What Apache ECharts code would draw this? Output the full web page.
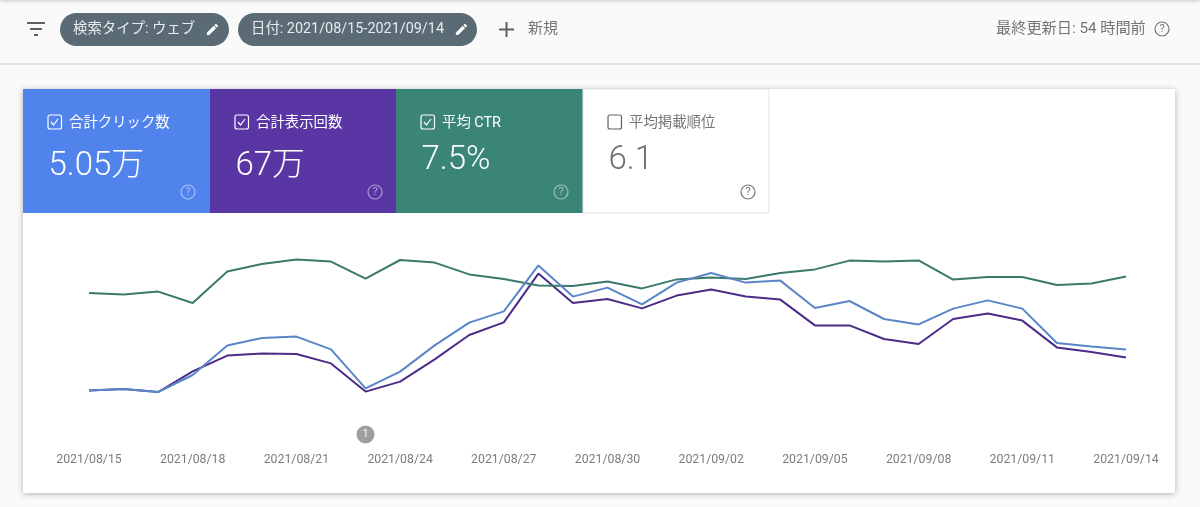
<!DOCTYPE html>
<html>
<head>
<meta charset="utf-8">
<style>
  html, body { margin: 0; padding: 0; background: #fafafa; }
  #chart { width: 1200px; height: 507px; }
</style>
<script src="https://cdn.jsdelivr.net/npm/echarts@6/dist/echarts.min.js"></script>
</head>
<body>
<div id="chart"></div>
<script>
var dates = [
  '2021/08/15', '2021/08/16', '2021/08/17', '2021/08/18', '2021/08/19', '2021/08/20', '2021/08/21', '2021/08/22',
  '2021/08/23', '2021/08/24', '2021/08/25', '2021/08/26', '2021/08/27', '2021/08/28', '2021/08/29', '2021/08/30',
  '2021/08/31', '2021/09/01', '2021/09/02', '2021/09/03', '2021/09/04', '2021/09/05', '2021/09/06', '2021/09/07',
  '2021/09/08', '2021/09/09', '2021/09/10', '2021/09/11', '2021/09/12', '2021/09/13', '2021/09/14'
]
// no scale in the picture, values are relative height 0-100
var clicks = [
  24.7, 25.5, 24, 32.5, 47.3, 51, 51.7, 45.3, 25.8, 34.2, 47.3, 58.7, 64.3, 87.3, 71.7, 76.2,
  67.8, 78.7, 83.5, 78.7, 79.7, 66, 69.5, 60.5, 57.8, 65.7, 69.8, 65.7, 48.5, 46.7, 45.3
]
var impressions = [
  24.7, 25.5, 24, 34.3, 42.2, 43.3, 43, 38.3, 24.2, 29.2, 40.3, 52.5, 58.8, 83.2, 68.5, 70.5,
  65.8, 72.2, 75.2, 71.8, 70.2, 57.3, 57.3, 50.5, 48, 60.5, 63.3, 59.7, 46.3, 44, 41.3
]
var ctr = [
  73.5, 72.8, 74.2, 68.5, 84.2, 88, 90.2, 89.2, 80.7, 90, 88.7, 82.8, 80.5, 77.2, 77, 79.3,
  75.8, 80.3, 81.3, 80.5, 83.5, 85.3, 89.7, 89.3, 89.8, 80.2, 81.5, 81.5, 77.5, 78.3, 81.8
]
var annotationDate = ['2021/08/23']
var annotationLevel = [2.8]
var annotationLabel = ['1']

var tileNames = ['合計クリック数', '合計表示回数', '平均 CTR', '平均掲載順位']
var tileValues = ['5.05万', '67万', '7.5%', '6.1']
var tileChecked = [true, true, true, false]

var chipLabels = ['検索タイプ: ウェブ', '日付: 2021/08/15-2021/09/14']
var newLabel = '新規'
var updatedLabel = '最終更新日: 54 時間前'

var blue = '#5083ec'
var purple = '#5a35a4'
var teal = '#3b8577'
var fontName = 'Roboto, "Noto Sans CJK JP", sans-serif'

function text(x, y, str, size, color, align, weight) {
  return {
    type: 'text',
    x: x,
    y: y,
    style: {
      text: str,
      fill: color,
      font: (weight || 400) + ' ' + size + 'px ' + fontName,
      textAlign: align || 'left',
      textVerticalAlign: 'middle'
    }
  }
}
function bar(x1, y1, x2, y2, color, width) {
  return {
    type: 'line',
    shape: { x1: x1, y1: y1, x2: x2, y2: y2 },
    style: { stroke: color, lineWidth: width }
  }
}
function help(x, y, color) {
  return [
    {
      type: 'circle',
      shape: { cx: x, cy: y, r: 7 },
      style: { fill: 'none', stroke: color, lineWidth: 1.2 }
    },
    text(x, y + 0.5, '?', 11, color, 'center')
  ]
}
// edit icon, two polygons on a 24 unit box
function pencil(x, y) {
  var k = 0.62
  var body = [[3, 17.25], [3, 21], [6.75, 21], [17.81, 9.94], [14.06, 6.19]]
  var tip = [[15.13, 5.12], [18.88, 8.87], [20.71, 7.04], [20.71, 5.63], [18.37, 3.29], [16.96, 3.29]]
  return [body, tip].map(function (pts) {
    return {
      type: 'polygon',
      shape: {
        points: pts.map(function (p) {
          return [x + p[0] * k, y + p[1] * k]
        })
      },
      style: { fill: '#ffffff' }
    }
  })
}
function checkbox(x, y, color, checked) {
  var list = [{
    type: 'rect',
    shape: { x: x, y: y, width: 13.5, height: 14, r: 2 },
    style: { fill: 'none', stroke: color, lineWidth: 1.2 }
  }]
  if (checked) {
    list.push({
      type: 'polyline',
      shape: { points: [[x + 3, y + 7], [x + 5.5, y + 10], [x + 10, y + 4]] },
      style: { fill: 'none', stroke: color, lineWidth: 1.2 }
    })
  }
  return list
}

var graphics = []
// toolbar
graphics.push({
  type: 'rect',
  shape: { x: 0, y: -4, width: 1200, height: 4 },
  style: { fill: '#ffffff', shadowBlur: 5, shadowColor: 'rgba(0,0,0,.3)' }
})
graphics.push(bar(0, 64, 1200, 64, '#dcdcdc', 1.5))
graphics.push(bar(27, 23, 45, 23, '#5f6368', 2))
graphics.push(bar(30, 29, 42, 29, '#5f6368', 2))
graphics.push(bar(34, 35, 38, 35, '#5f6368', 2))
graphics.push({
  type: 'rect',
  shape: { x: 60, y: 13, width: 169, height: 33, r: 16.5 },
  style: { fill: '#5a6b75' }
})
graphics.push({
  type: 'rect',
  shape: { x: 238, y: 13, width: 239, height: 33, r: 16.5 },
  style: { fill: '#5a6b75' }
})
graphics.push(text(73, 29, chipLabels[0], 14.4, '#e9ecee'))
graphics.push(text(251, 29, chipLabels[1], 14.4, '#e9ecee'))
graphics = graphics.concat(pencil(205, 22))
graphics = graphics.concat(pencil(454, 22))
graphics.push(bar(499, 29.5, 514, 29.5, '#616161', 2))
graphics.push(bar(506.5, 22, 506.5, 37, '#616161', 2))
graphics.push(text(528, 29, newLabel, 15, '#757575'))
graphics.push(text(996, 29, updatedLabel, 15.2, '#757575'))
graphics = graphics.concat(help(1162, 29, '#757575'))

// card
graphics.push({
  type: 'rect',
  shape: { x: 23, y: 89, width: 1152, height: 404 },
  style: { fill: '#ffffff', shadowBlur: 6, shadowOffsetY: 1, shadowColor: 'rgba(0,0,0,.3)' }
})

// metric tiles
var tileX = [23, 210, 396, 583]
var tileWidth = [187, 186, 187, 186]
var tileFill = [blue, purple, teal, '#ffffff']
var valueY = [167, 167, 161, 161]
tileNames.forEach(function (name, i) {
  var fg = i < 3 ? '#ffffff' : '#6f6f6f'
  var soft = i < 3 ? 'rgba(255,255,255,.5)' : '#757575'
  var left = tileX[i]
  graphics.push({
    type: 'rect',
    shape: { x: left, y: 89, width: tileWidth[i], height: 124 },
    style: i < 3 ? { fill: tileFill[i] } : { fill: '#ffffff', stroke: '#e4e4e4', lineWidth: 1 }
  })
  graphics = graphics.concat(checkbox(left + 25, 115, i < 3 ? '#ffffff' : '#616161', tileChecked[i]))
  graphics.push(text(left + 46, 123, name, 14.4, i < 3 ? '#ffffff' : '#757575'))
  graphics.push(text(left + 25.5, valueY[i], tileValues[i], 33, fg, 'left', 300))
  graphics = graphics.concat(help(left + 165, 192, soft))
})

var chart = echarts.init(document.getElementById('chart'))
var options = {
  animation: false,
  backgroundColor: '#fafafa',
  textStyle: { fontFamily: fontName },
  graphic: { elements: graphics },
  grid: {
    left: 89,
    right: 74,
    top: 240,
    height: 200
  },
  xAxis: {
    type: 'category',
    boundaryGap: false,
    data: dates,
    axisLine: { show: false },
    axisTick: { show: false },
    axisLabel: {
      interval: 2,
      margin: 14,
      fontSize: 12.3,
      color: '#7d7d7d',
      hideOverlap: false
    }
  },
  yAxis: {
    type: 'value',
    min: 0,
    max: 100,
    show: false,
    splitLine: { show: false }
  },
  series: [
    {
      name: '合計表示回数',
      type: 'line',
      data: impressions,
      symbol: 'none',
      lineStyle: { color: '#4c2c88', width: 2 }
    },
    {
      name: '平均 CTR',
      type: 'line',
      data: ctr,
      symbol: 'none',
      lineStyle: { color: '#3a7a6c', width: 2 }
    },
    {
      name: '合計クリック数',
      type: 'line',
      data: clicks,
      symbol: 'none',
      lineStyle: { color: '#5a86c8', width: 2 }
    },
    {
      name: 'annotation',
      type: 'scatter',
      data: annotationDate.map(function (d, i) {
        return [d, annotationLevel[i], annotationLabel[i]]
      }),
      symbolSize: 18,
      itemStyle: { color: '#9e9e9e', opacity: 1 },
      label: {
        show: true,
        position: 'inside',
        color: '#ffffff',
        fontSize: 10,
        formatter: function (params) {
          return params.value[2]
        }
      }
    }
  ]
}
chart.setOption(options)
</script>
</body>
</html>
